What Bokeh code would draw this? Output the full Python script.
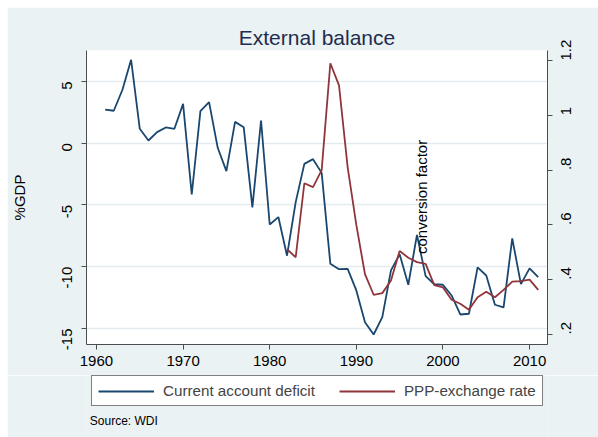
import math
from bokeh.plotting import figure
from bokeh.layouts import column
from bokeh.models import Range1d, LinearAxis, FixedTicker, Legend, LegendItem, Label
from bokeh.embed import file_html
from bokeh.resources import INLINE

# ---- data ----
years_ca = list(range(1961, 2012))
current_account = [2.73, 2.63, 4.33, 6.76, 1.17, 0.22, 0.90, 1.28, 1.17, 3.19,
                   -4.15, 2.60, 3.33, -0.37, -2.26, 1.73, 1.30, -5.20, 1.84, -6.58,
                   -5.98, -9.11, -4.77, -1.67, -1.29, -2.40, -9.76, -10.20, -10.17, -11.92,
                   -14.49, -15.49, -14.08, -10.30, -9.00, -11.46, -7.42, -10.76, -11.42, -11.46,
                   -12.33, -13.87, -13.81, -10.06, -10.71, -13.08, -13.30, -7.71, -11.41, -10.14,
                   -10.84]
years_ppp = list(range(1982, 2012))
ppp_rate = [0.511, 0.482, 0.752, 0.738, 0.800, 1.190, 1.109, 0.810, 0.600, 0.420,
            0.345, 0.351, 0.397, 0.505, 0.480, 0.464, 0.458, 0.380, 0.372, 0.327,
            0.312, 0.290, 0.336, 0.356, 0.336, 0.363, 0.393, 0.395, 0.400, 0.363]
x_ticks = [1960, 1970, 1980, 1990, 2000, 2010]
left_ticks = [-15, -10, -5, 0, 5]
left_tick_labels = ["-15", "-10", "-5", "0", "5"]
right_ticks = [0.2, 0.4, 0.6, 0.8, 1.0, 1.2]
right_tick_labels = [".2", ".4", ".6", ".8", "1", "1.2"]
series_names = ["Current account deficit", "PPP-exchange rate"]

BG = "#eaf2f3"
BLUE = "#1a476f"
RED = "#90353b"
AXIS = "#4d4d4d"
FONT = "Liberation Sans"

p = figure(width=591, height=368, output_backend="svg", toolbar_location=None,
           x_range=Range1d(1958.85, 2012.07), y_range=Range1d(-16.30, 7.51),
           min_border_left=78, min_border_right=51, min_border_top=43, min_border_bottom=31,
           background_fill_color="white", border_fill_color=BG, outline_line_color=None)
p.margin = (7, 0, 0, 7)
p.extra_y_ranges = {"ppp": Range1d(0.1635, 1.2365)}

p.title.text = "External balance"
p.title.align = "center"
p.title.text_font = FONT
p.title.text_font_size = "21px"
p.title.text_font_style = "normal"
p.title.text_color = "#1e2d50"
p.title.standoff = 3

p.line(years_ca, current_account, line_color=BLUE, line_width=1.8)
p.line(years_ppp, ppp_rate, line_color=RED, line_width=1.8, y_range_name="ppp")

p.xgrid.visible = False
p.ygrid.ticker = FixedTicker(ticks=left_ticks)
p.ygrid.grid_line_color = "#e3ebee"
p.ygrid.grid_line_width = 1.5

def style_axis(ax, standoff):
    ax.axis_line_color = AXIS
    ax.major_tick_line_color = AXIS
    ax.major_tick_out = 5
    ax.major_tick_in = 0
    ax.minor_tick_line_color = None
    ax.major_label_text_font = FONT
    ax.major_label_text_font_size = "15px"
    ax.major_label_text_color = "black"
    ax.major_label_standoff = standoff

xa = p.xaxis[0]
xa.ticker = FixedTicker(ticks=x_ticks)
style_axis(xa, 6)

ya = p.yaxis[0]
ya.ticker = FixedTicker(ticks=left_ticks)
ya.major_label_overrides = {t: s for t, s in zip(left_ticks, left_tick_labels)}
ya.major_label_orientation = math.pi / 2
style_axis(ya, 14)
ya.axis_label = "%GDP"
ya.axis_label_text_font = FONT
ya.axis_label_text_font_size = "15px"
ya.axis_label_text_font_style = "normal"
ya.axis_label_text_color = "black"
ya.axis_label_standoff = 27

ra = LinearAxis(y_range_name="ppp", ticker=FixedTicker(ticks=right_ticks))
ra.major_label_overrides = {t: s for t, s in zip(right_ticks, right_tick_labels)}
ra.major_label_orientation = math.pi / 2
style_axis(ra, 14)
p.add_layout(ra, "right")

# right-axis title drawn inside the plot as in the reference
p.add_layout(Label(x=1997.56, y=-4.35, text="conversion factor", angle=math.pi / 2,
                   text_align="center", text_baseline="middle", text_font=FONT,
                   text_font_size="15px", text_color="black"))

# ---- legend + source strip (its frame is aligned with the chart frame) ----
H2 = 62
p2 = figure(width=591, height=H2, output_backend="svg", toolbar_location=None,
            x_range=Range1d(0, 462), y_range=Range1d(0, H2),
            x_axis_type=None, y_axis_type=None, min_border=0,
            background_fill_color=BG, border_fill_color=BG, outline_line_color=None)
p2.margin = (0, 0, 0, 7)
p2.grid.visible = False
nan = float("nan")
k1 = p2.line([nan], [nan], line_color=BLUE, line_width=1.8)
k2 = p2.line([nan], [nan], line_color=RED, line_width=1.8)

legend = Legend(items=[LegendItem(label=series_names[0], renderers=[k1]),
                       LegendItem(label=series_names[1], renderers=[k2])],
                orientation="horizontal", location=(5, 31),
                border_line_color="black", border_line_width=1,
                background_fill_color="white", background_fill_alpha=1.0,
                padding=6, spacing=24, glyph_width=56, glyph_height=16,
                label_height=16, label_standoff=9, margin=0,
                label_text_font=FONT, label_text_font_size="15.2px")
p2.add_layout(legend, "center")

p2.add_layout(Label(x=3.3, y=16.5, text="Source: WDI", text_align="left",
                    text_baseline="middle", text_font=FONT, text_font_size="12px",
                    text_color="black"))

layout = column(p, p2, spacing=0)
open("out.html", "w").write(file_html(layout, INLINE))
